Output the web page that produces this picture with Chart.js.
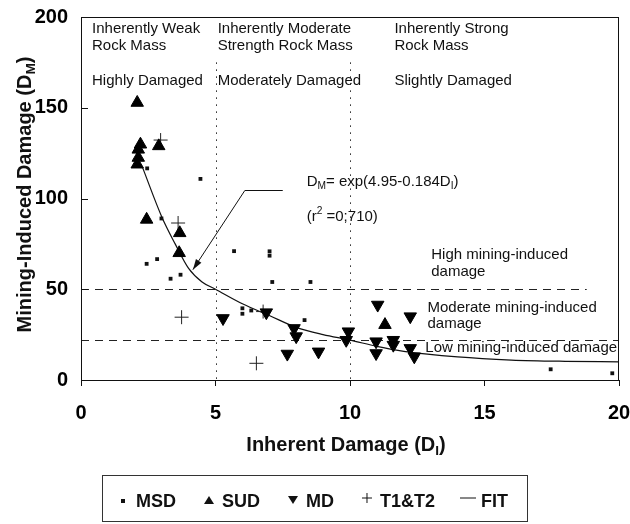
<!DOCTYPE html>
<html><head><meta charset="utf-8">
<script src="https://cdn.jsdelivr.net/npm/chart.js@4.4.1/dist/chart.umd.min.js"></script>
<style>html,body{margin:0;padding:0;background:#fff;}canvas{display:block;}</style>
</head><body>
<canvas id="c" width="630" height="524"></canvas>
<script>
// ---- data ----
const seriesNames = ['MSD', 'SUD', 'MD', 'T1&T2', 'FIT'];
const msdX = [2.46, 4.44, 2.99, 2.44, 2.83, 3.33, 3.70, 5.69, 7.01, 7.01, 7.11, 8.53, 6.00, 6.00, 6.33, 8.31, 17.46, 19.75];
const msdY = [116.6, 110.8, 89.0, 64.0, 66.6, 55.8, 58.0, 71.0, 70.9, 68.5, 54.0, 54.0, 39.5, 36.5, 38.3, 33.0, 5.9, 3.7];
const sudX = [2.09, 2.21, 2.13, 2.13, 2.09, 2.89, 2.44, 3.67, 3.65, 11.30];
const sudY = [152.8, 129.8, 127.0, 122.5, 118.8, 128.9, 88.4, 81.0, 70.0, 30.4];
const mdX = [5.28, 6.89, 7.92, 8.00, 7.67, 8.83, 9.94, 9.86, 11.03, 12.24, 10.97, 10.97, 11.61, 11.61, 12.24, 12.39];
const mdY = [34.0, 37.2, 28.5, 24.0, 14.4, 15.6, 26.7, 22.0, 41.4, 35.0, 21.2, 14.7, 22.0, 19.3, 17.5, 12.9];
const tX = [2.96, 3.61, 3.74, 6.77, 6.52];
const tY = [132.2, 86.5, 34.6, 37.7, 9.2];
const fitX = [2.29, 3.0, 3.5, 4.0, 4.5, 5.0, 6.0, 7.0, 8.0, 9.0, 10.0, 11.0, 12.0, 14.0, 16.0, 18.0, 20.0];
const fitY = [117, 90, 75, 61.5, 54, 50, 42, 35.5, 29, 25, 22, 18.5, 15.8, 12.7, 11, 10.3, 10];
const xTicks = [0, 5, 10, 15, 20];
const yTicks = [0, 50, 100, 150, 200];
const zoneBounds = [5, 10];          // dotted vertical lines
const damageLevels = [50, 22];      // dashed horizontal lines

const pts = (xs, ys) => xs.map((x, i) => ({x, y: ys[i]}));
const FONT = '"Liberation Sans", Arial, Helvetica, sans-serif';

// ---- annotations (positions in data units) ----
const notes = [
  {x: 0.41, y: 193.4, t: [['Inherently Weak']]},
  {x: 0.41, y: 184.0, t: [['Rock Mass']]},
  {x: 0.41, y: 164.6, t: [['Highly Damaged']]},
  {x: 5.08, y: 193.4, t: [['Inherently Moderate']]},
  {x: 5.08, y: 184.0, t: [['Strength Rock Mass']]},
  {x: 5.08, y: 164.6, t: [['Moderately Damaged']]},
  {x: 11.65, y: 193.4, t: [['Inherently Strong']]},
  {x: 11.65, y: 184.0, t: [['Rock Mass']]},
  {x: 11.65, y: 164.6, t: [['Slightly Damaged']]},
  {x: 8.39, y: 109.4, t: [['D'], ['M', 'sub'], ['= exp(4.95-0.184D'], ['I', 'sub'], [')']]},
  {x: 8.39, y: 90.0, t: [['(r'], ['2', 'sup'], [' =0;710)']]},
  {x: 13.02, y: 69.0, t: [['High mining-induced']]},
  {x: 13.02, y: 59.7, t: [['damage']]},
  {x: 12.88, y: 39.8, t: [['Moderate mining-induced']]},
  {x: 12.88, y: 30.9, t: [['damage']]},
  {x: 12.80, y: 17.7, t: [['Low mining-induced damage']]}
];
const arrowPath = [[7.5, 104.4], [6.09, 104.4], [4.16, 60.8]];

function drawRich(ctx, parts, x, y, size, weight, align) {
  const seg = parts.map(p => {
    const s = p[1] ? size * 0.68 : size;
    ctx.font = weight + ' ' + s + 'px ' + FONT;
    return {text: p[0], kind: p[1], s, w: ctx.measureText(p[0]).width};
  });
  const total = seg.reduce((a, b) => a + b.w, 0);
  let cx = align === 'center' ? x - total / 2 : x;
  ctx.textAlign = 'left';
  ctx.textBaseline = 'middle';
  seg.forEach(sg => {
    ctx.font = weight + ' ' + sg.s + 'px ' + FONT;
    let dy = 0;
    if (sg.kind === 'sub') dy = size * 0.32;
    if (sg.kind === 'sup') dy = -size * 0.35;
    ctx.fillText(sg.text, cx, y + dy);
    cx += sg.w;
  });
}

const decor = {
  id: 'decor',
  beforeDatasetsDraw(chart) {
    const {ctx, chartArea: a, scales: {x, y}} = chart;
    ctx.save();
    ctx.strokeStyle = '#222';
    ctx.lineWidth = 1;
    ctx.setLineDash([1.5, 5.5]);
    zoneBounds.forEach(v => {
      const px = Math.round(x.getPixelForValue(v)) + 0.5;
      ctx.beginPath(); ctx.moveTo(px, y.getPixelForValue(175)); ctx.lineTo(px, a.bottom); ctx.stroke();
    });
    ctx.setLineDash([8, 6]);
    const ends = [18.8, 20];
    damageLevels.forEach((v, i) => {
      const py = Math.round(y.getPixelForValue(v)) + 0.5;
      ctx.beginPath(); ctx.moveTo(a.left, py); ctx.lineTo(x.getPixelForValue(ends[i]), py); ctx.stroke();
    });
    ctx.setLineDash([]);
    ctx.restore();
  },
  afterDraw(chart) {
    const {ctx, chartArea: a, scales: {x, y}} = chart;
    ctx.save();
    ctx.strokeStyle = '#111';
    ctx.lineWidth = 1;
    ctx.strokeRect(a.left + 0.5, a.top + 0.5, a.right - a.left - 1, a.bottom - a.top);
    [50, 100, 150].forEach(v => {
      const py = Math.round(y.getPixelForValue(v)) + 0.5;
      ctx.beginPath(); ctx.moveTo(a.left, py); ctx.lineTo(a.left + 7, py); ctx.stroke();
    });
    ctx.beginPath();
    arrowPath.forEach((p, i) => {
      const px = x.getPixelForValue(p[0]), py = y.getPixelForValue(p[1]);
      if (i === 0) ctx.moveTo(px, py); else ctx.lineTo(px, py);
    });
    ctx.stroke();
    const p1 = arrowPath[1], p2 = arrowPath[2];
    const ax = x.getPixelForValue(p2[0]), ay = y.getPixelForValue(p2[1]);
    const bx = x.getPixelForValue(p1[0]), by = y.getPixelForValue(p1[1]);
    const ang = Math.atan2(ay - by, ax - bx);
    ctx.fillStyle = '#111';
    ctx.beginPath();
    ctx.moveTo(ax, ay);
    ctx.lineTo(ax - 11 * Math.cos(ang - 0.3), ay - 11 * Math.sin(ang - 0.3));
    ctx.lineTo(ax - 11 * Math.cos(ang + 0.3), ay - 11 * Math.sin(ang + 0.3));
    ctx.closePath(); ctx.fill();
    ctx.fillStyle = '#111';
    notes.forEach(n => drawRich(ctx, n.t, x.getPixelForValue(n.x), y.getPixelForValue(n.y), 15, 'normal', 'left'));
    drawRich(ctx, [['Inherent Damage (D'], ['I', 'sub'], [')']], (a.left + a.right) / 2 - 4, 445, 20, 'bold', 'center');
    ctx.save();
    ctx.translate(25, (a.top + a.bottom) / 2 - 4);
    ctx.rotate(-Math.PI / 2);
    drawRich(ctx, [['Mining-Induced Damage (D'], ['M', 'sub'], [')']], 0, 0, 20, 'bold', 'center');
    ctx.restore();
    // legend
    const box = {l: 102, t: 475, w: 425, h: 46};
    ctx.strokeStyle = '#333';
    ctx.strokeRect(box.l + 0.5, box.t + 0.5, box.w, box.h);
    const cy = 502;
    ctx.font = 'bold 18px ' + FONT;
    ctx.textBaseline = 'middle';
    ctx.textAlign = 'left';
    let cx = 123;
    chart.data.datasets.forEach((ds, i) => {
      ctx.fillStyle = '#111'; ctx.strokeStyle = '#111'; ctx.lineWidth = 1;
      const kind = seriesNames[i];
      ctx.beginPath();
      if (kind === 'MSD') { ctx.fillRect(cx - 2, cy - 3, 4, 4); }
      else if (kind === 'SUD') { ctx.moveTo(cx, cy - 6); ctx.lineTo(cx + 5, cy + 2); ctx.lineTo(cx - 5, cy + 2); ctx.closePath(); ctx.fill(); }
      else if (kind === 'MD') { ctx.moveTo(cx, cy + 2); ctx.lineTo(cx + 5, cy - 6); ctx.lineTo(cx - 5, cy - 6); ctx.closePath(); ctx.fill(); }
      else if (kind === 'T1&T2') { ctx.moveTo(cx - 5, cy - 4); ctx.lineTo(cx + 5, cy - 4); ctx.moveTo(cx, cy - 9); ctx.lineTo(cx, cy + 1); ctx.stroke(); }
      else { ctx.moveTo(cx - 8, cy - 4); ctx.lineTo(cx + 8, cy - 4); ctx.stroke(); }
      const tx = cx + 13;
      ctx.fillText(ds.label, tx, cy);
      cx = tx + ctx.measureText(ds.label).width + 33;
    });
    ctx.restore();
  }
};

new Chart(document.getElementById('c'), {
  type: 'scatter',
  data: {
    datasets: [
      {label: seriesNames[0], data: pts(msdX, msdY), pointStyle: 'rect', pointRadius: 2.7, backgroundColor: '#111', borderColor: '#111', borderWidth: 0},
      {label: seriesNames[1], data: pts(sudX, sudY), pointStyle: 'triangle', pointRadius: 7.2, backgroundColor: '#000', borderColor: '#000', borderWidth: 1},
      {label: seriesNames[2], data: pts(mdX, mdY), pointStyle: 'triangle', pointRotation: 180, pointRadius: 7.2, backgroundColor: '#000', borderColor: '#000', borderWidth: 1},
      {label: seriesNames[3], data: pts(tX, tY), pointStyle: 'cross', pointRadius: 7, backgroundColor: '#222', borderColor: '#222', borderWidth: 1},
      {label: seriesNames[4], type: 'line', data: pts(fitX, fitY), showLine: true, pointRadius: 0, borderColor: '#111', borderWidth: 1.2, cubicInterpolationMode: 'monotone', fill: false}
    ]
  },
  options: {
    responsive: false,
    animation: false,
    events: [],
    layout: {padding: {top: 17, right: 11, left: 0, bottom: 0}},
    plugins: {legend: {display: false}, tooltip: {enabled: false}},
    scales: {
      x: {
        type: 'linear', min: 0, max: 20,
        afterBuildTicks: s => { s.ticks = xTicks.map(v => ({value: v})); },
        afterFit: s => { s.height = 144; s.paddingLeft = 0; s.paddingRight = 0; },
        ticks: {color: '#000', font: {family: FONT, size: 20, weight: 'bold'}, padding: 15},
        grid: {drawOnChartArea: false, drawTicks: true, tickLength: 6, color: '#111'},
        border: {display: true, color: '#111', width: 1}
      },
      y: {
        type: 'linear', min: 0, max: 200,
        afterBuildTicks: s => { s.ticks = yTicks.map(v => ({value: v})); },
        afterFit: s => { s.width = 81; s.paddingTop = 0; s.paddingBottom = 0; },
        ticks: {color: '#000', font: {family: FONT, size: 20, weight: 'bold'}, padding: 13},
        grid: {drawOnChartArea: false, drawTicks: false, color: '#111'},
        border: {display: true, color: '#111', width: 1}
      }
    }
  },
  plugins: [decor]
});
</script>
</body></html>
